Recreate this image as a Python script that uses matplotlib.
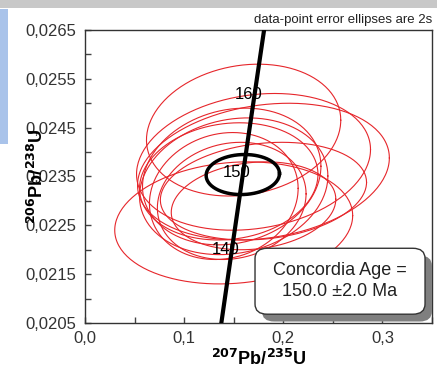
# concordia diagram, data-point error ellipses (2s)

import numpy as np
import matplotlib
matplotlib.use('Agg')
import matplotlib.pyplot as plt
from matplotlib.patches import FancyBboxPatch, Rectangle
from matplotlib.ticker import MultipleLocator, FuncFormatter

plt.rcParams['font.family'] = ['Liberation Sans', 'DejaVu Sans']

# data-point ellipses: 207Pb/235U, 206Pb/238U, 2s errors, error correlation
x207 = [0.150, 0.160, 0.170, 0.180, 0.148, 0.150, 0.140, 0.148, 0.170, 0.145, 0.180]
y206 = [0.02255, 0.02445, 0.02380, 0.02360, 0.02350, 0.02330, 0.02310, 0.02300, 0.02290, 0.02340, 0.02320]
sx = [0.120, 0.098, 0.118, 0.127, 0.090, 0.095, 0.075, 0.075, 0.083, 0.090, 0.104]
sy = [0.00125, 0.00135, 0.00140, 0.00140, 0.00140, 0.00140, 0.00130, 0.00120, 0.00090, 0.00120, 0.00100]
rho = [0.12, 0.15, 0.18, 0.20, 0.15, 0.15, 0.12, 0.12, 0.15, 0.12, 0.18]

# concordia age ellipse
age_x, age_y, age_sx, age_sy, age_rho = 0.1592, 0.02354, 0.037, 0.00041, 0.05
age_labels = [140, 150, 160]

# decay constants (1/yr)
l238 = 1.55125e-10
l235 = 9.8485e-10


def ellipse_xy(cx, cy, a, b, r, n=200):
    t = np.linspace(0, 2 * np.pi, n)
    x = cx + a * np.cos(t)
    y = cy + b * (r * np.cos(t) + np.sqrt(1 - r ** 2) * np.sin(t))
    return x, y


fig = plt.figure(figsize=(4.37, 3.75), dpi=100)
ax = fig.add_axes([0.1945, 0.1387, 0.794, 0.7813])

for cx, cy, a, b, r in zip(x207, y206, sx, sy, rho):
    ex, ey = ellipse_xy(cx, cy, a, b, r)
    ax.plot(ex, ey, color='#e6262b', lw=0.8, zorder=2)

t = np.linspace(110, 190, 300) * 1e6
ax.plot(np.exp(l235 * t) - 1, np.exp(l238 * t) - 1, color='black', lw=3, zorder=3)

ex, ey = ellipse_xy(age_x, age_y, age_sx, age_sy, age_rho)
ax.plot(ex, ey, color='black', lw=2.5, zorder=4)

for a in age_labels:
    tt = a * 1e6
    ax.text(np.exp(l235 * tt) - 1 - 0.006, np.exp(l238 * tt) - 1 + 0.00005, str(a),
            ha='center', va='center', fontsize=12, zorder=5)

# result box with shadow
ax.add_patch(FancyBboxPatch((0.51, 0.005), 0.49, 0.225, boxstyle='round,pad=0,rounding_size=0.035',
                            transform=ax.transAxes, facecolor='#7f7f7f', edgecolor='none', zorder=6))
ax.add_patch(FancyBboxPatch((0.49, 0.03), 0.49, 0.225, boxstyle='round,pad=0,rounding_size=0.035',
                            transform=ax.transAxes, facecolor='white', edgecolor='#333333', lw=1, zorder=7))
ax.text(0.735, 0.143, 'Concordia Age =\n150.0 ±2.0 Ma', transform=ax.transAxes, ha='center', va='center',
        fontsize=13, color='#222222', linespacing=1.35, zorder=8)

ax.set_xlim(0, 0.35)
ax.set_ylim(0.0205, 0.0265)
ax.xaxis.set_major_locator(MultipleLocator(0.05))
ax.yaxis.set_major_locator(MultipleLocator(0.0005))
ax.xaxis.set_major_formatter(FuncFormatter(
    lambda v, p: ('%.1f' % v).replace('.', ',') if abs(v * 10 - round(v * 10)) < 1e-6 else ''))
ax.yaxis.set_major_formatter(FuncFormatter(
    lambda v, p: ('%.4f' % v).replace('.', ',') if abs(v * 1e4 - round(v * 1e4)) < 1e-6 and round(v * 1e4) % 2 == 1 else ''))
ax.tick_params(direction='in', length=4, width=1, colors='#444444', labelsize=12, labelcolor='#333333', pad=6)
for s in ax.spines.values():
    s.set_color('#333333')
    s.set_linewidth(1)

ax.set_xlabel(r'$\mathbf{^{207}}$Pb/$\mathbf{^{235}}$U', fontsize=13, fontweight='bold', labelpad=2)
ax.set_ylabel(r'$\mathbf{^{206}}$Pb/$\mathbf{^{238}}$U', fontsize=13, fontweight='bold')
ax.yaxis.set_label_coords(-0.11, 0.5)

fig.text(0.988, 0.948, 'data-point error ellipses are 2s', ha='right', va='center', fontsize=9.5, color='#222222')

# screenshot edges
fig.patches.append(Rectangle((0, 0.978), 1, 0.022, transform=fig.transFigure, facecolor='#c8c8c8', edgecolor='none'))
fig.patches.append(Rectangle((0, 0.615), 0.018, 0.36, transform=fig.transFigure, facecolor='#a9c3ea', edgecolor='none'))

plt.savefig('out.png', dpi=100)
plt.close()
